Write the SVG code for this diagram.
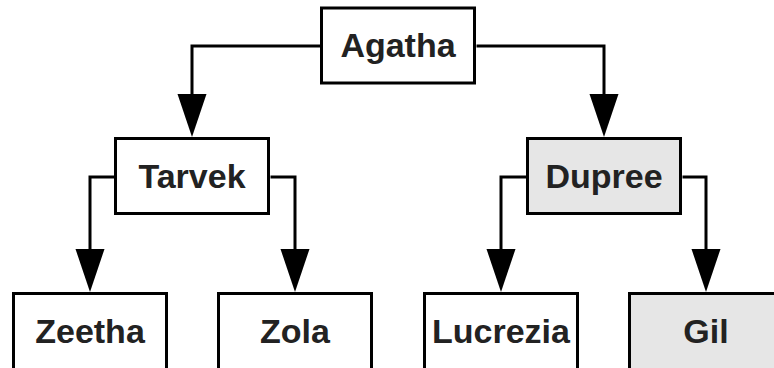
<svg xmlns="http://www.w3.org/2000/svg" width="774" height="368" viewBox="0 0 774 368">
  <style>
    .box { stroke: #000; stroke-width: 3; fill: #fff; }
    .shaded { fill: #e6e6e6; }
    .lbl { font-family: "Liberation Sans", Arial, sans-serif; font-weight: bold; font-size: 34px; fill: #222; text-anchor: middle; }
    .conn { fill: none; stroke: #000; stroke-width: 3; marker-end: url(#arrow); }
  </style>
  <defs>
    <marker id="arrow" markerUnits="userSpaceOnUse" markerWidth="43" markerHeight="29" refX="0" refY="14.5" orient="auto" overflow="visible">
      <path d="M0,0 L43,14.5 L0,29 Z" fill="#000"/>
    </marker>
  </defs>
  <rect width="774" height="368" fill="#fff"/>
  <g id="connectors">
    <path class="conn" d="M320,46 H192 V94"/>
    <path class="conn" d="M476.5,46 H604 V94"/>
    <path class="conn" d="M114,177 H90 V249"/>
    <path class="conn" d="M270.5,177 H295 V249"/>
    <path class="conn" d="M526,177 H501 V249"/>
    <path class="conn" d="M682.5,177 H706 V249"/>
  </g>
  <g id="agatha">
    <rect class="box" x="321.5" y="8" width="153" height="75"/>
    <text class="lbl" x="398" y="57">Agatha</text>
  </g>
  <g id="tarvek">
    <rect class="box" x="115.5" y="138.5" width="153" height="75"/>
    <text class="lbl" x="192" y="188">Tarvek</text>
  </g>
  <g id="dupree">
    <rect class="box shaded" x="527.5" y="138.5" width="153" height="75"/>
    <text class="lbl" x="604" y="188">Dupree</text>
  </g>
  <g id="zeetha">
    <rect class="box" x="13.5" y="293.5" width="153" height="80"/>
    <text class="lbl" x="90" y="343">Zeetha</text>
  </g>
  <g id="zola">
    <rect class="box" x="218.5" y="293.5" width="153" height="80"/>
    <text class="lbl" x="295" y="343">Zola</text>
  </g>
  <g id="lucrezia">
    <rect class="box" x="424.5" y="293.5" width="153" height="80"/>
    <text class="lbl" x="501" y="343">Lucrezia</text>
  </g>
  <g id="gil">
    <rect class="box shaded" x="629.5" y="293.5" width="153" height="80"/>
    <text class="lbl" x="706" y="343">Gil</text>
  </g>
</svg>
